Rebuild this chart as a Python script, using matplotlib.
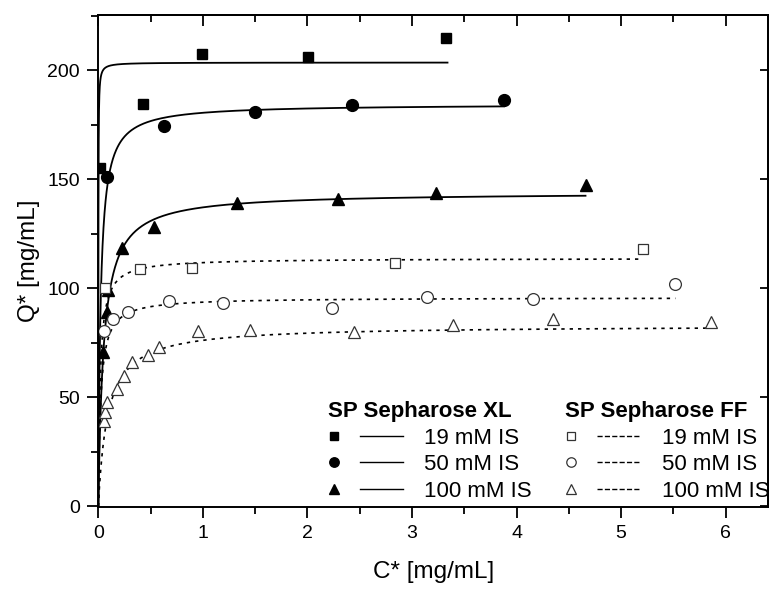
import numpy as np
import matplotlib
matplotlib.use("Agg")
import matplotlib.pyplot as plt
from matplotlib.lines import Line2D
from matplotlib.legend_handler import HandlerBase

plt.rcParams['font.family'] = ['Liberation Sans', 'DejaVu Sans']

# measured equilibrium points, C* [mg/mL] vs Q* [mg/mL]
xl19_c = [0.016, 0.43, 0.99, 2.01, 3.33]
xl19_q = [155.3, 184.7, 207.4, 206.3, 215.0]
xl50_c = [0.08, 0.63, 1.50, 2.43, 3.88]
xl50_q = [151.0, 174.3, 180.8, 184.3, 186.3]
xl100_c = [0.048, 0.085, 0.096, 0.23, 0.53, 1.33, 2.29, 3.23, 4.66]
xl100_q = [70.8, 89.2, 99.2, 118.4, 128.2, 139.3, 140.8, 143.8, 147.3]

ff19_c = [0.064, 0.40, 0.90, 2.84, 5.21]
ff19_q = [100.0, 109.0, 109.2, 111.7, 118.2]
ff50_c = [0.05, 0.14, 0.28, 0.68, 1.19, 2.24, 3.14, 4.16, 5.52]
ff50_q = [80.4, 85.8, 89.3, 94.2, 93.4, 91.0, 96.2, 95.0, 102.2]
ff100_c = [0.05, 0.064, 0.086, 0.18, 0.25, 0.32, 0.48, 0.58, 0.95, 1.45, 2.45, 3.39, 4.35, 5.86]
ff100_q = [39.2, 43.3, 47.9, 53.7, 59.8, 66.2, 69.3, 73.3, 80.3, 80.8, 80.0, 83.4, 85.8, 84.7]

# Langmuir fit parameters (XL 19/50/100, FF 19/50/100)
fit_qmax = [203.6, 184.5, 144.0, 113.8, 95.8, 83.0]
fit_kd = [0.0008, 0.022, 0.05, 0.018, 0.023, 0.09]
fit_cmax = [3.34, 3.88, 4.66, 5.17, 5.52, 5.84]

labels = ['19 mM IS', '50 mM IS', '100 mM IS']


def langmuir(c, qmax, kd):
    return qmax * c / (kd + c)


class MarkerThenLine(HandlerBase):
    """Legend key with the symbol on the left and the line drawn after it."""
    def create_artists(self, legend, orig, xdescent, ydescent, width, height,
                       fontsize, trans):
        y = height / 2 - ydescent
        x0 = -xdescent
        m = Line2D([x0 + 0.08 * width], [y], marker=orig.get_marker(),
                   markersize=orig.get_markersize() * 0.8,
                   markerfacecolor=orig.get_markerfacecolor(),
                   markeredgecolor=orig.get_markeredgecolor(),
                   markeredgewidth=orig.get_markeredgewidth(),
                   linestyle='none', transform=trans)
        ln = Line2D([x0 + 0.43 * width, x0 + width], [y, y],
                    color=orig.get_color(), linestyle=orig.get_linestyle(),
                    linewidth=orig.get_linewidth(), transform=trans)
        return [m, ln]


fig = plt.figure(figsize=(7.7, 5.9), dpi=100)
ax = fig.add_axes([0.127, 0.14, 0.871, 0.835])

xl_sets = [(xl19_c, xl19_q, 's', 7.5), (xl50_c, xl50_q, 'o', 8.5),
           (xl100_c, xl100_q, '^', 9.0)]
ff_sets = [(ff19_c, ff19_q, 's', 7.5), (ff50_c, ff50_q, 'o', 8.5),
           (ff100_c, ff100_q, '^', 9.0)]

xl_handles = []
ff_handles = []
for i in range(3):
    c, q, mk, ms = xl_sets[i]
    cc = np.concatenate([[0.0], np.geomspace(1e-5, fit_cmax[i], 500)])
    ax.plot(cc, langmuir(cc, fit_qmax[i], fit_kd[i]), color='black', lw=1.3)
    ax.plot(c, q, linestyle='none', marker=mk, ms=ms, color='black')
    xl_handles.append(Line2D([], [], color='black', lw=1.0, marker=mk, ms=ms,
                             mfc='black', mec='black'))

for i in range(3):
    c, q, mk, ms = ff_sets[i]
    j = i + 3
    cc = np.concatenate([[0.0], np.geomspace(1e-5, fit_cmax[j], 500)])
    ax.plot(cc, langmuir(cc, fit_qmax[j], fit_kd[j]), color='black', lw=1.2,
            linestyle=(0, (2.0, 3.0)))
    ax.plot(c, q, linestyle='none', marker=mk, ms=ms, mfc='white',
            mec='#333333', mew=0.9)
    ff_handles.append(Line2D([], [], color='black', lw=1.0,
                             linestyle=(0, (0.9, 3.2)), marker=mk, ms=ms,
                             mfc='white', mec='#333333', mew=0.9))

ax.set_xlim(-0.005, 6.41)
ax.set_ylim(-0.5, 225.5)
ax.set_xticks(np.arange(0, 7, 1))
ax.set_xticks(np.arange(0.5, 6.5, 1), minor=True)
ax.set_yticks(np.arange(0, 201, 50))
ax.set_yticks(np.arange(25, 226, 50), minor=True)

ax.tick_params(axis='both', which='major', direction='out', length=8,
               width=1.3, labelsize=14, pad=5)
ax.tick_params(axis='both', which='minor', direction='out', length=5,
               width=1.3)
for s in ax.spines.values():
    s.set_linewidth(1.4)

# mirrored ticks on top and right
top = ax.secondary_xaxis('top')
top.set_xticks(np.arange(0, 7, 1))
top.set_xticks(np.arange(0.5, 6.5, 1), minor=True)
top.tick_params(which='major', direction='in', length=8, width=1.3,
                labeltop=False)
top.tick_params(which='minor', direction='in', length=5, width=1.3)
top.spines['top'].set_linewidth(1.4)
right = ax.secondary_yaxis('right')
right.set_yticks(np.arange(0, 201, 50))
right.tick_params(which='major', direction='in', length=6, width=1.3,
                  labelright=False)
right.spines['right'].set_linewidth(1.4)

ax.set_xlabel('C* [mg/mL]', fontsize=17.5, labelpad=13)
ax.set_ylabel('Q* [mg/mL]', fontsize=17.5, labelpad=5)

hmap = {h: MarkerThenLine() for h in xl_handles + ff_handles}
leg_kw = dict(frameon=False, fontsize=16, handlelength=3.4,
              handletextpad=0.95, labelspacing=0.25, borderpad=0.0,
              alignment='left', loc='lower left', handler_map=hmap,
              title_fontproperties={'weight': 'bold', 'size': 16})
leg1 = ax.legend(xl_handles, labels, title='SP Sepharose XL',
                 bbox_to_anchor=(0.326, -0.011), **leg_kw)
ax.add_artist(leg1)
ax.legend(ff_handles, labels, title='SP Sepharose FF',
          bbox_to_anchor=(0.68, -0.011), **leg_kw)

fig.savefig('out.png', dpi=100)
